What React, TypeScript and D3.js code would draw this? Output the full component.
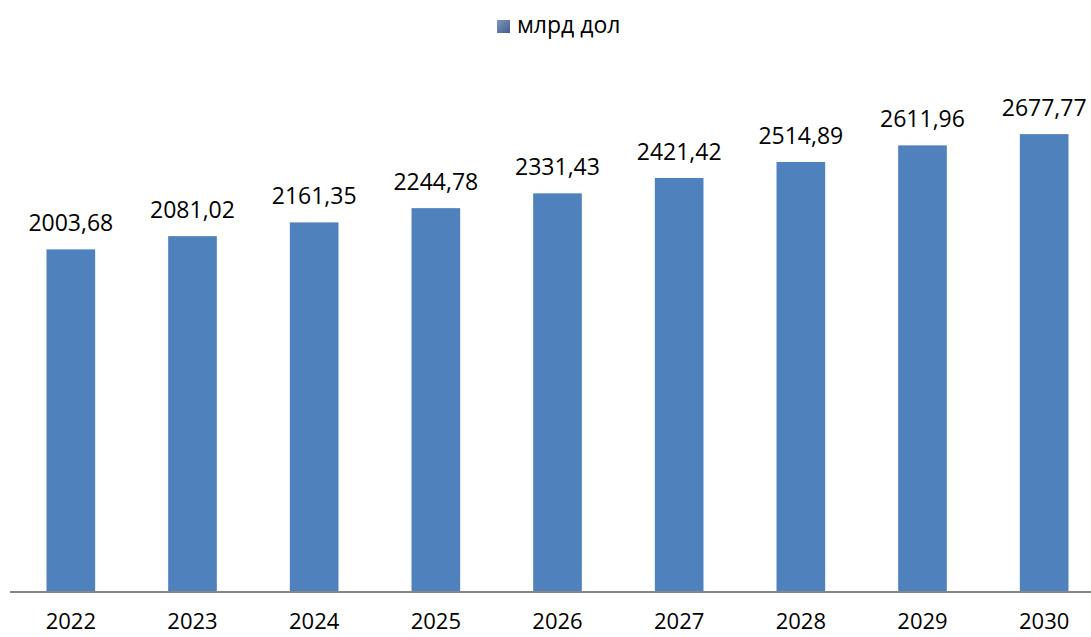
import React from "react";
import * as d3 from "d3";

const years = ["2022", "2023", "2024", "2025", "2026", "2027", "2028", "2029", "2030"];
const values = [2003.68, 2081.02, 2161.35, 2244.78, 2331.43, 2421.42, 2514.89, 2611.96, 2677.77];
const seriesName = "млрд дол";

export default function App() {
  const W = 1091, H = 637;
  const x = d3.scaleBand<string>().domain(years).range([10, 1105]).paddingInner(0.6).paddingOuter(0.3);
  const y = d3.scaleLinear().domain([0, 3000]).range([592, 79]);
  const fmt = (v: number) => v.toFixed(2).replace(".", ",");
  const font = "'Open Sans', 'Liberation Sans', sans-serif";
  return (
    <svg width={W} height={H} style={{ position: "absolute", left: 0, top: 0, background: "#fff" }}>
      <defs>
        <linearGradient id="lg" x1="0" y1="0" x2="1" y2="1">
          <stop offset="0" stopColor="#7f96bd" />
          <stop offset="1" stopColor="#3f5f8f" />
        </linearGradient>
      </defs>
      <rect x={0} y={0} width={W} height={H} fill="#fff" />
      {years.map((yr, i) => (
        <g key={yr}>
          <rect x={x(yr)} y={y(values[i])} width={x.bandwidth()} height={y(0) - y(values[i])} fill="#4F81BD" />
          <text x={(x(yr) as number) + x.bandwidth() / 2} y={y(values[i]) - 18} textAnchor="middle"
            fontFamily={font} fontSize={23} fill="#000">{fmt(values[i])}</text>
          <text x={(x(yr) as number) + x.bandwidth() / 2} y={629} textAnchor="middle"
            fontFamily={font} fontSize={22} fill="#000">{yr}</text>
        </g>
      ))}
      <line x1={10} x2={W} y1={592} y2={592} stroke="#868686" strokeWidth={2} />
      <rect x={497} y={20} width={13} height={13} fill="url(#lg)" />
      <text x={517} y={33} fontFamily={font} fontSize={23} fill="#000">{seriesName}</text>
    </svg>
  );
}
